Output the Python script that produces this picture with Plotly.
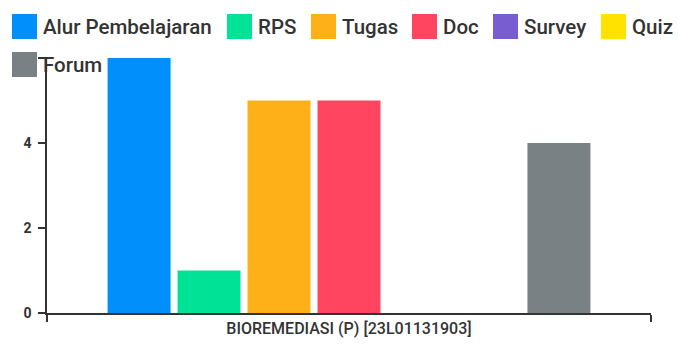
import plotly.graph_objects as go

# Course and per-activity counts
categories = ["BIOREMEDIASI (P) [23L01131903]"]
series_names = ["Alur Pembelajaran", "RPS", "Tugas", "Doc", "Survey", "Quiz", "Forum"]
series_values = [6, 1, 5, 5, 0, 0, 4]
series_colors = ["#008FFB", "#00E396", "#FEB019", "#FF4560", "#775DD0", "#FFE200", "#798184"]

W, H = 678, 345
L, R, T, B = 47, 27, 58, 32
plot_w, plot_h = W - L - R, H - T - B

fig = go.Figure()
for name, val, col in zip(series_names, series_values, series_colors):
    fig.add_trace(go.Bar(x=categories, y=[val], name=name, marker_color=col,
                         marker_line_width=0, showlegend=False,
                         hovertemplate="%{x}<br>" + name + ": %{y}<extra></extra>"))

# Legend built from shapes and labels (large square swatches, two rows)
legend_pos = [(12, 14), (227, 14), (311, 14), (412, 14), (493, 14), (601, 14), (12, 52)]
sw = 25
shapes, annotations = [], []
def px_x(px):
    return (px - L) / plot_w
def px_y(py):
    return (H - B - py) / plot_h
for (lx, ly), name, col in zip(legend_pos, series_names, series_colors):
    shapes.append(dict(type="rect", xref="paper", yref="paper", layer="above",
                       x0=px_x(lx), x1=px_x(lx + sw), y0=px_y(ly + sw), y1=px_y(ly),
                       fillcolor=col, line_width=0))
    annotations.append(dict(xref="paper", yref="paper", x=px_x(lx + sw + 4),
                            y=px_y(ly + sw / 2), xanchor="left", yanchor="middle",
                            text=name, showarrow=False,
                            font=dict(family="Roboto", size=20.5, weight=500, color="#333333")))

fig.update_layout(
    width=W, height=H,
    margin=dict(l=L, r=R, t=T, b=B, autoexpand=False),
    paper_bgcolor="white", plot_bgcolor="white",
    barmode="group", bargap=0.189, bargroupgap=0.1,
    font=dict(family="Roboto", size=13, color="#333333"),
    shapes=shapes, annotations=annotations,
    xaxis=dict(type="category", range=[-0.5, 0.5], tickson="boundaries",
               ticks="outside", ticklen=7, tickcolor="#333333", tickwidth=1.5,
               showline=True, linecolor="#333333", linewidth=1.5,
               showgrid=False, fixedrange=True, automargin=False,
               tickfont=dict(family="Roboto", size=16, weight=500, color="#333333")),
    yaxis=dict(range=[0, 6], dtick=2, ticks="outside", ticklen=7,
               tickcolor="#333333", tickwidth=1.5, ticklabelstandoff=4,
               showline=True, linecolor="#333333", linewidth=1.5,
               showgrid=False, zeroline=False, fixedrange=True, automargin=False,
               tickfont=dict(family="Roboto", size=14, weight=700, color="#333333")),
)

fig.write_html("out.html")
